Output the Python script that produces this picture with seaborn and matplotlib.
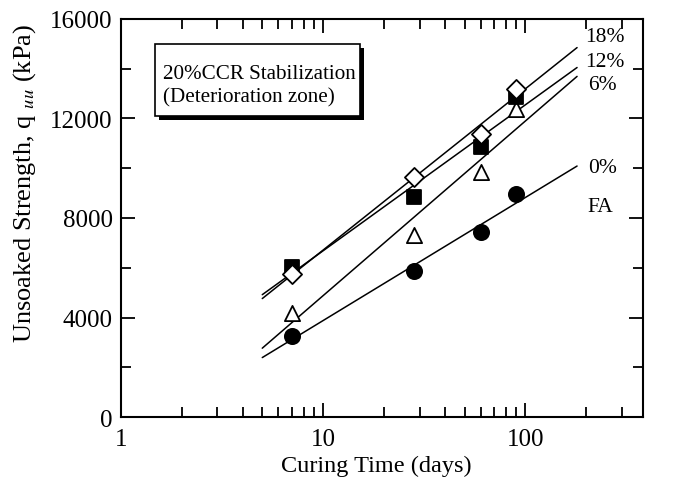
import numpy as np
import pandas as pd
import matplotlib
matplotlib.use("Agg")
import matplotlib.pyplot as plt
import matplotlib.patheffects as pe
from matplotlib.patches import Rectangle
from matplotlib.ticker import LogLocator, FixedLocator, MultipleLocator, NullFormatter
import seaborn as sns

# ---- data ----
days = [7, 28, 60, 90]
fa_0 = [3260, 5870, 7440, 8960]
fa_6 = [4200, 7300, 9850, 12380]
fa_12 = [6050, 8840, 10860, 12860]
fa_18 = [5750, 9650, 11380, 13190]
series_labels = ["0%", "6%", "12%", "18%"]
fit_range = [5, 180]
x_ticks = [1, 10, 100]
y_ticks = [0, 4000, 8000, 12000, 16000]

sns.set_theme(style="ticks")
plt.rcParams["font.family"] = ["Liberation Serif", "DejaVu Serif"]
plt.rcParams["mathtext.fontset"] = "stix"
for k in ["text.color", "axes.labelcolor", "xtick.color", "ytick.color", "axes.edgecolor"]:
    plt.rcParams[k] = "black"

fig = plt.figure(figsize=(6.83, 4.85), dpi=100)
ax = fig.add_axes([0.177, 0.138, 0.764, 0.821])

series = [
    (fa_0, dict(marker="o", fc="black", s=120)),
    (fa_6, dict(marker="^", fc="white", s=120)),
    (fa_12, dict(marker="s", fc="black", s=105)),
    (fa_18, dict(marker="D", fc="white", s=95)),
]

xx = np.linspace(fit_range[0], fit_range[1], 200)
for vals, st in series:
    b, a = np.polyfit(np.log(days), vals, 1)
    fit = pd.DataFrame({"x": xx, "y": a + b * np.log(xx)})
    sns.lineplot(data=fit, x="x", y="y", ax=ax, color="black", lw=1.1, zorder=2)

for vals, st in series:
    df = pd.DataFrame({"x": days, "y": vals})
    sns.scatterplot(data=df, x="x", y="y", ax=ax, marker=st["marker"], s=st["s"],
                    facecolor=st["fc"], edgecolor="black", linewidth=1.3, zorder=3)

ax.set_xscale("log")
ax.set_xlim(1, 380)
ax.set_ylim(0, 16000)
ax.xaxis.set_major_locator(FixedLocator(x_ticks))
ax.set_xticklabels([str(t) for t in x_ticks])
ax.xaxis.set_minor_locator(LogLocator(base=10, subs=np.arange(2, 10)))
ax.xaxis.set_minor_formatter(NullFormatter())
ax.yaxis.set_major_locator(FixedLocator(y_ticks))
ax.set_yticklabels([str(t) for t in y_ticks])
ax.yaxis.set_minor_locator(MultipleLocator(2000))

ax.tick_params(which="both", direction="in", top=True, right=True, width=1.3, colors="black",
               labelsize=18)
ax.tick_params(which="major", length=10)
ax.tick_params(axis="y", which="major", pad=6)
ax.tick_params(axis="x", which="major", pad=8)
ax.tick_params(which="minor", length=7)
for s in ax.spines.values():
    s.set_linewidth(1.5)
    s.set_color("black")

ax.set_xlabel("Curing Time (days)", fontsize=17.5)
ax.set_ylabel(r"Unsoaked Strength, q $_{\mathit{uu}}$ (kPa)", fontsize=19)
ax.xaxis.set_label_coords(0.489, -0.121)
ax.xaxis.label.set_va("center")
ax.yaxis.set_label_coords(-0.184, 0.59)
ax.yaxis.label.set_va("center")

# end labels
ax.text(0.889, 0.955, "18%", transform=ax.transAxes, fontsize=15.5, va="center", ha="left")
ax.text(0.889, 0.894, "12%", transform=ax.transAxes, fontsize=15.5, va="center", ha="left")
ax.text(0.895, 0.836, "6%", transform=ax.transAxes, fontsize=15.5, va="center", ha="left")
ax.text(0.895, 0.628, "0%", transform=ax.transAxes, fontsize=15.5, va="center", ha="left")
ax.text(0.895, 0.528, "FA", transform=ax.transAxes, fontsize=15.5, va="center", ha="left")

box = Rectangle((0.065, 0.756), 0.393, 0.181, transform=ax.transAxes, fc="white", ec="black",
                lw=1.2, zorder=4)
box.set_path_effects([pe.SimplePatchShadow(offset=(3, -3), shadow_rgbFace="black", alpha=1.0),
                      pe.Normal()])
ax.add_patch(box)
ax.text(0.080, 0.864, "20%CCR Stabilization", transform=ax.transAxes,
        fontsize=15.2, va="center", ha="left", zorder=5)
ax.text(0.080, 0.804, "(Deterioration zone)", transform=ax.transAxes,
        fontsize=15.2, va="center", ha="left", zorder=5)

fig.savefig("out.png", dpi=100)
